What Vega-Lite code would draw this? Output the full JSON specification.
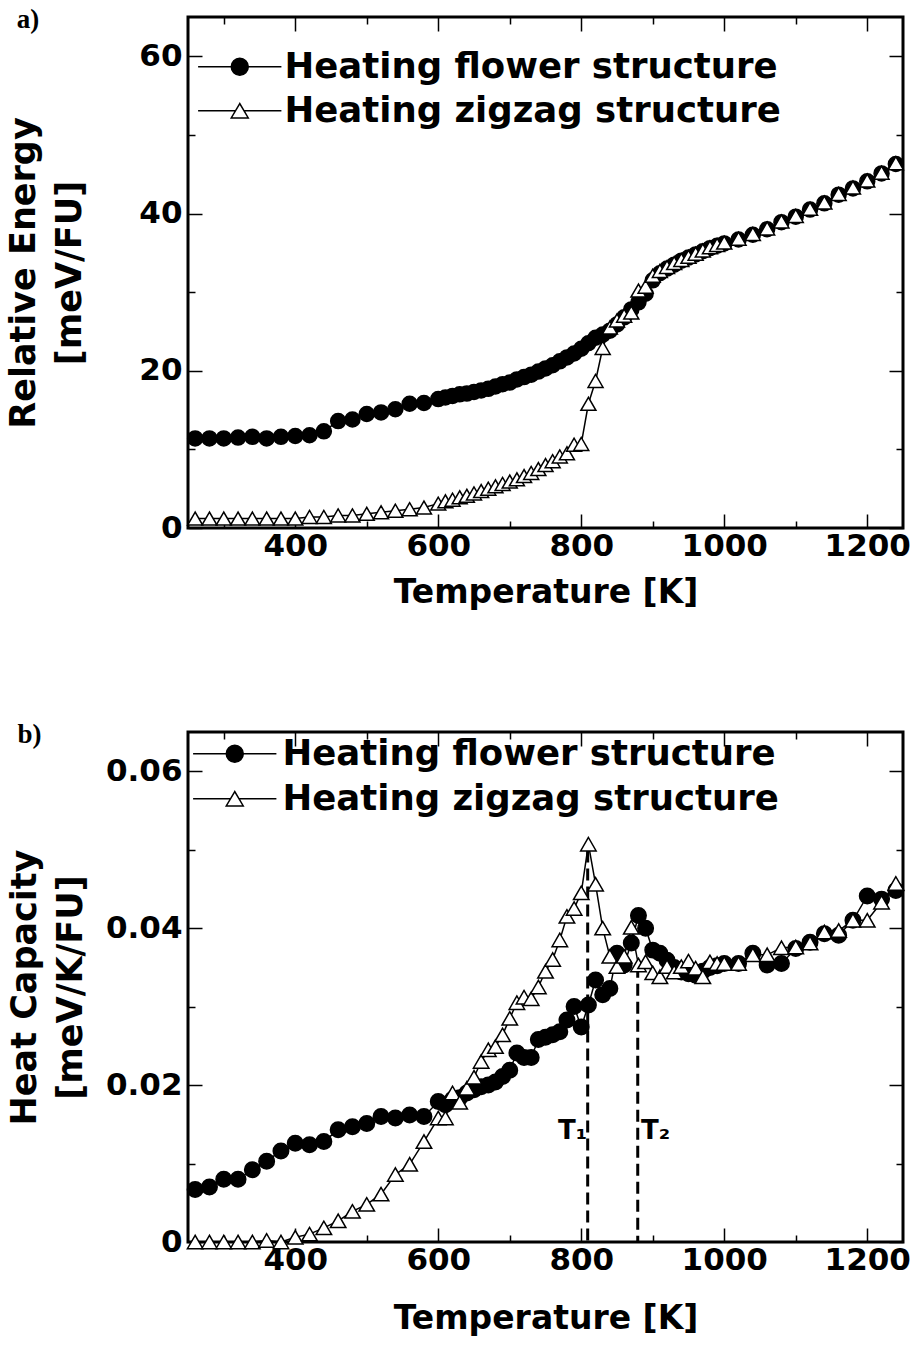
{
  "$schema": "https://vega.github.io/schema/vega-lite/v6.json",
  "background": "white",
  "padding": {"left": 5, "top": 4, "right": 5, "bottom": 5},
  "spacing": 108,
  "config": {
    "view": {"stroke": "black", "strokeWidth": 3},
    "font": "DejaVu Sans",
    "axis": {"domain": false, "grid": false, "labelFont": "DejaVu Sans", "labelFontWeight": "bold", "labelFontSize": 31, "labelColor": "black", "titleFont": "DejaVu Sans", "titleFontWeight": "bold", "titleFontSize": 35, "titleColor": "black", "tickColor": "black", "tickWidth": 1.5},
    "legend": {"orient": "none", "title": null, "labelFont": "DejaVu Sans", "labelFontWeight": "bold", "labelFontSize": 35.5, "labelColor": "black", "labelLimit": 0, "symbolSize": 289, "symbolStrokeWidth": 1.5, "symbolOpacity": 1, "padding": 0},
    "title": {"font": "Liberation Serif", "fontWeight": "bold", "fontSize": 27, "color": "black", "anchor": "start", "frame": "bounds", "offset": -18, "dx": 10}
  },
  "resolve": {"scale": {"fill": "independent", "stroke": "independent"}, "legend": {"fill": "independent", "stroke": "independent"}},
  "datasets": {
    "energy": [
      {"series":"Heating flower structure","T":260,"E":11.4},{"series":"Heating flower structure","T":280,"E":11.4},{"series":"Heating flower structure","T":300,"E":11.4},{"series":"Heating flower structure","T":320,"E":11.5},{"series":"Heating flower structure","T":340,"E":11.6},{"series":"Heating flower structure","T":360,"E":11.4},{"series":"Heating flower structure","T":380,"E":11.6},{"series":"Heating flower structure","T":400,"E":11.7},{"series":"Heating flower structure","T":420,"E":11.8},{"series":"Heating flower structure","T":440,"E":12.3},{"series":"Heating flower structure","T":460,"E":13.6},{"series":"Heating flower structure","T":480,"E":13.8},{"series":"Heating flower structure","T":500,"E":14.5},{"series":"Heating flower structure","T":520,"E":14.7},{"series":"Heating flower structure","T":540,"E":15.1},{"series":"Heating flower structure","T":560,"E":15.8},{"series":"Heating flower structure","T":580,"E":15.9},
      {"series":"Heating flower structure","T":600,"E":16.4},{"series":"Heating flower structure","T":610,"E":16.6},{"series":"Heating flower structure","T":620,"E":16.8},{"series":"Heating flower structure","T":630,"E":17.0},{"series":"Heating flower structure","T":640,"E":17.1},{"series":"Heating flower structure","T":650,"E":17.3},{"series":"Heating flower structure","T":660,"E":17.5},{"series":"Heating flower structure","T":670,"E":17.7},{"series":"Heating flower structure","T":680,"E":18.0},{"series":"Heating flower structure","T":690,"E":18.3},{"series":"Heating flower structure","T":700,"E":18.5},{"series":"Heating flower structure","T":710,"E":18.9},{"series":"Heating flower structure","T":720,"E":19.2},{"series":"Heating flower structure","T":730,"E":19.5},{"series":"Heating flower structure","T":740,"E":19.9},{"series":"Heating flower structure","T":750,"E":20.3},{"series":"Heating flower structure","T":760,"E":20.7},{"series":"Heating flower structure","T":770,"E":21.2},{"series":"Heating flower structure","T":780,"E":21.7},{"series":"Heating flower structure","T":790,"E":22.2},{"series":"Heating flower structure","T":800,"E":22.8},{"series":"Heating flower structure","T":810,"E":23.5},{"series":"Heating flower structure","T":820,"E":24.2},{"series":"Heating flower structure","T":830,"E":24.6},{"series":"Heating flower structure","T":840,"E":25.1},{"series":"Heating flower structure","T":850,"E":25.9},{"series":"Heating flower structure","T":860,"E":26.8},{"series":"Heating flower structure","T":870,"E":27.8},{"series":"Heating flower structure","T":880,"E":28.7},{"series":"Heating flower structure","T":890,"E":29.8},{"series":"Heating flower structure","T":900,"E":31.5},{"series":"Heating flower structure","T":910,"E":32.4},{"series":"Heating flower structure","T":920,"E":33.0},{"series":"Heating flower structure","T":930,"E":33.5},{"series":"Heating flower structure","T":940,"E":34.0},{"series":"Heating flower structure","T":950,"E":34.4},{"series":"Heating flower structure","T":960,"E":34.8},{"series":"Heating flower structure","T":970,"E":35.2},{"series":"Heating flower structure","T":980,"E":35.6},{"series":"Heating flower structure","T":990,"E":35.9},
      {"series":"Heating flower structure","T":1000,"E":36.2},{"series":"Heating flower structure","T":1020,"E":36.7},{"series":"Heating flower structure","T":1040,"E":37.3},{"series":"Heating flower structure","T":1060,"E":38.0},{"series":"Heating flower structure","T":1080,"E":38.9},{"series":"Heating flower structure","T":1100,"E":39.6},{"series":"Heating flower structure","T":1120,"E":40.5},{"series":"Heating flower structure","T":1140,"E":41.3},{"series":"Heating flower structure","T":1160,"E":42.4},{"series":"Heating flower structure","T":1180,"E":43.2},{"series":"Heating flower structure","T":1200,"E":44.1},{"series":"Heating flower structure","T":1220,"E":45.1},{"series":"Heating flower structure","T":1240,"E":46.3},
      {"series":"Heating zigzag structure","T":260,"E":1.2},{"series":"Heating zigzag structure","T":280,"E":1.2},{"series":"Heating zigzag structure","T":300,"E":1.2},{"series":"Heating zigzag structure","T":320,"E":1.2},{"series":"Heating zigzag structure","T":340,"E":1.2},{"series":"Heating zigzag structure","T":360,"E":1.2},{"series":"Heating zigzag structure","T":380,"E":1.2},{"series":"Heating zigzag structure","T":400,"E":1.2},{"series":"Heating zigzag structure","T":420,"E":1.4},{"series":"Heating zigzag structure","T":440,"E":1.4},{"series":"Heating zigzag structure","T":460,"E":1.6},{"series":"Heating zigzag structure","T":480,"E":1.6},{"series":"Heating zigzag structure","T":500,"E":1.8},{"series":"Heating zigzag structure","T":520,"E":2.0},{"series":"Heating zigzag structure","T":540,"E":2.2},{"series":"Heating zigzag structure","T":560,"E":2.4},{"series":"Heating zigzag structure","T":580,"E":2.6},
      {"series":"Heating zigzag structure","T":600,"E":3.1},{"series":"Heating zigzag structure","T":610,"E":3.4},{"series":"Heating zigzag structure","T":620,"E":3.6},{"series":"Heating zigzag structure","T":630,"E":3.9},{"series":"Heating zigzag structure","T":640,"E":4.1},{"series":"Heating zigzag structure","T":650,"E":4.4},{"series":"Heating zigzag structure","T":660,"E":4.7},{"series":"Heating zigzag structure","T":670,"E":5.0},{"series":"Heating zigzag structure","T":680,"E":5.3},{"series":"Heating zigzag structure","T":690,"E":5.6},{"series":"Heating zigzag structure","T":700,"E":5.9},{"series":"Heating zigzag structure","T":710,"E":6.2},{"series":"Heating zigzag structure","T":720,"E":6.6},{"series":"Heating zigzag structure","T":730,"E":7.0},{"series":"Heating zigzag structure","T":740,"E":7.5},{"series":"Heating zigzag structure","T":750,"E":8.0},{"series":"Heating zigzag structure","T":760,"E":8.5},{"series":"Heating zigzag structure","T":770,"E":9.1},{"series":"Heating zigzag structure","T":780,"E":9.5},{"series":"Heating zigzag structure","T":790,"E":10.6},{"series":"Heating zigzag structure","T":800,"E":10.7},{"series":"Heating zigzag structure","T":810,"E":15.8},{"series":"Heating zigzag structure","T":820,"E":18.7},{"series":"Heating zigzag structure","T":830,"E":22.9},{"series":"Heating zigzag structure","T":840,"E":25.5},{"series":"Heating zigzag structure","T":850,"E":26.4},{"series":"Heating zigzag structure","T":860,"E":27.0},{"series":"Heating zigzag structure","T":870,"E":27.4},{"series":"Heating zigzag structure","T":880,"E":30.2},{"series":"Heating zigzag structure","T":890,"E":30.7},{"series":"Heating zigzag structure","T":900,"E":32.1},{"series":"Heating zigzag structure","T":910,"E":32.7},{"series":"Heating zigzag structure","T":920,"E":33.2},{"series":"Heating zigzag structure","T":930,"E":33.7},{"series":"Heating zigzag structure","T":940,"E":34.1},{"series":"Heating zigzag structure","T":950,"E":34.5},{"series":"Heating zigzag structure","T":960,"E":34.9},{"series":"Heating zigzag structure","T":970,"E":35.3},{"series":"Heating zigzag structure","T":980,"E":35.7},{"series":"Heating zigzag structure","T":990,"E":36.0},
      {"series":"Heating zigzag structure","T":1000,"E":36.3},{"series":"Heating zigzag structure","T":1020,"E":36.8},{"series":"Heating zigzag structure","T":1040,"E":37.4},{"series":"Heating zigzag structure","T":1060,"E":38.1},{"series":"Heating zigzag structure","T":1080,"E":39.0},{"series":"Heating zigzag structure","T":1100,"E":39.7},{"series":"Heating zigzag structure","T":1120,"E":40.6},{"series":"Heating zigzag structure","T":1140,"E":41.4},{"series":"Heating zigzag structure","T":1160,"E":42.5},{"series":"Heating zigzag structure","T":1180,"E":43.3},{"series":"Heating zigzag structure","T":1200,"E":44.2},{"series":"Heating zigzag structure","T":1220,"E":45.2},{"series":"Heating zigzag structure","T":1240,"E":46.4}
    ],
    "heat": [
      {"series":"Heating flower structure","T":260,"C":0.0067},{"series":"Heating flower structure","T":280,"C":0.0070},{"series":"Heating flower structure","T":300,"C":0.0080},{"series":"Heating flower structure","T":320,"C":0.0080},{"series":"Heating flower structure","T":340,"C":0.0092},{"series":"Heating flower structure","T":360,"C":0.0103},{"series":"Heating flower structure","T":380,"C":0.0116},{"series":"Heating flower structure","T":400,"C":0.0126},{"series":"Heating flower structure","T":420,"C":0.0124},{"series":"Heating flower structure","T":440,"C":0.0128},{"series":"Heating flower structure","T":460,"C":0.0143},{"series":"Heating flower structure","T":480,"C":0.0147},{"series":"Heating flower structure","T":500,"C":0.0151},{"series":"Heating flower structure","T":520,"C":0.0160},{"series":"Heating flower structure","T":540,"C":0.0158},{"series":"Heating flower structure","T":560,"C":0.0162},{"series":"Heating flower structure","T":580,"C":0.0160},
      {"series":"Heating flower structure","T":600,"C":0.0179},{"series":"Heating flower structure","T":610,"C":0.0175},{"series":"Heating flower structure","T":620,"C":0.0182},{"series":"Heating flower structure","T":630,"C":0.0184},{"series":"Heating flower structure","T":640,"C":0.0190},{"series":"Heating flower structure","T":650,"C":0.0194},{"series":"Heating flower structure","T":660,"C":0.0198},{"series":"Heating flower structure","T":670,"C":0.0200},{"series":"Heating flower structure","T":680,"C":0.0204},{"series":"Heating flower structure","T":690,"C":0.0211},{"series":"Heating flower structure","T":700,"C":0.0219},{"series":"Heating flower structure","T":710,"C":0.0241},{"series":"Heating flower structure","T":720,"C":0.0235},{"series":"Heating flower structure","T":730,"C":0.0235},{"series":"Heating flower structure","T":740,"C":0.0258},{"series":"Heating flower structure","T":750,"C":0.0261},{"series":"Heating flower structure","T":760,"C":0.0264},{"series":"Heating flower structure","T":770,"C":0.0268},{"series":"Heating flower structure","T":780,"C":0.0283},{"series":"Heating flower structure","T":790,"C":0.0300},{"series":"Heating flower structure","T":800,"C":0.0274},{"series":"Heating flower structure","T":810,"C":0.0302},{"series":"Heating flower structure","T":820,"C":0.0334},{"series":"Heating flower structure","T":830,"C":0.0315},{"series":"Heating flower structure","T":840,"C":0.0323},{"series":"Heating flower structure","T":850,"C":0.0368},{"series":"Heating flower structure","T":860,"C":0.0353},{"series":"Heating flower structure","T":870,"C":0.0381},{"series":"Heating flower structure","T":880,"C":0.0416},{"series":"Heating flower structure","T":890,"C":0.0400},{"series":"Heating flower structure","T":900,"C":0.0372},{"series":"Heating flower structure","T":910,"C":0.0368},{"series":"Heating flower structure","T":920,"C":0.0359},{"series":"Heating flower structure","T":930,"C":0.0350},{"series":"Heating flower structure","T":940,"C":0.0344},{"series":"Heating flower structure","T":950,"C":0.0342},{"series":"Heating flower structure","T":960,"C":0.0340},{"series":"Heating flower structure","T":970,"C":0.0345},{"series":"Heating flower structure","T":980,"C":0.0350},{"series":"Heating flower structure","T":990,"C":0.0352},
      {"series":"Heating flower structure","T":1000,"C":0.0355},{"series":"Heating flower structure","T":1020,"C":0.0355},{"series":"Heating flower structure","T":1040,"C":0.0368},{"series":"Heating flower structure","T":1060,"C":0.0353},{"series":"Heating flower structure","T":1080,"C":0.0355},{"series":"Heating flower structure","T":1100,"C":0.0374},{"series":"Heating flower structure","T":1120,"C":0.0382},{"series":"Heating flower structure","T":1140,"C":0.0393},{"series":"Heating flower structure","T":1160,"C":0.0391},{"series":"Heating flower structure","T":1180,"C":0.0410},{"series":"Heating flower structure","T":1200,"C":0.0441},{"series":"Heating flower structure","T":1220,"C":0.0437},{"series":"Heating flower structure","T":1240,"C":0.0448},
      {"series":"Heating zigzag structure","T":260,"C":0.0},{"series":"Heating zigzag structure","T":280,"C":0.0},{"series":"Heating zigzag structure","T":300,"C":0.0},{"series":"Heating zigzag structure","T":320,"C":0.0},{"series":"Heating zigzag structure","T":340,"C":0.0},{"series":"Heating zigzag structure","T":360,"C":0.0002},{"series":"Heating zigzag structure","T":380,"C":0.0},{"series":"Heating zigzag structure","T":400,"C":0.0006},{"series":"Heating zigzag structure","T":420,"C":0.0010},{"series":"Heating zigzag structure","T":440,"C":0.0018},{"series":"Heating zigzag structure","T":460,"C":0.0027},{"series":"Heating zigzag structure","T":480,"C":0.0039},{"series":"Heating zigzag structure","T":500,"C":0.0048},{"series":"Heating zigzag structure","T":520,"C":0.0061},{"series":"Heating zigzag structure","T":540,"C":0.0086},{"series":"Heating zigzag structure","T":560,"C":0.0099},{"series":"Heating zigzag structure","T":580,"C":0.0128},
      {"series":"Heating zigzag structure","T":600,"C":0.0158},{"series":"Heating zigzag structure","T":610,"C":0.0158},{"series":"Heating zigzag structure","T":620,"C":0.0190},{"series":"Heating zigzag structure","T":630,"C":0.0178},{"series":"Heating zigzag structure","T":640,"C":0.0196},{"series":"Heating zigzag structure","T":650,"C":0.0210},{"series":"Heating zigzag structure","T":660,"C":0.0230},{"series":"Heating zigzag structure","T":670,"C":0.0245},{"series":"Heating zigzag structure","T":680,"C":0.0249},{"series":"Heating zigzag structure","T":690,"C":0.0264},{"series":"Heating zigzag structure","T":700,"C":0.0285},{"series":"Heating zigzag structure","T":710,"C":0.0305},{"series":"Heating zigzag structure","T":720,"C":0.0312},{"series":"Heating zigzag structure","T":730,"C":0.0310},{"series":"Heating zigzag structure","T":740,"C":0.0325},{"series":"Heating zigzag structure","T":750,"C":0.0345},{"series":"Heating zigzag structure","T":760,"C":0.0360},{"series":"Heating zigzag structure","T":770,"C":0.0385},{"series":"Heating zigzag structure","T":780,"C":0.0415},{"series":"Heating zigzag structure","T":790,"C":0.0425},{"series":"Heating zigzag structure","T":800,"C":0.0445},{"series":"Heating zigzag structure","T":810,"C":0.0507},{"series":"Heating zigzag structure","T":820,"C":0.0456},{"series":"Heating zigzag structure","T":830,"C":0.0400},{"series":"Heating zigzag structure","T":840,"C":0.0364},{"series":"Heating zigzag structure","T":850,"C":0.0351},{"series":"Heating zigzag structure","T":860,"C":0.0364},{"series":"Heating zigzag structure","T":870,"C":0.0401},{"series":"Heating zigzag structure","T":880,"C":0.0353},{"series":"Heating zigzag structure","T":890,"C":0.0357},{"series":"Heating zigzag structure","T":900,"C":0.0343},{"series":"Heating zigzag structure","T":910,"C":0.0338},{"series":"Heating zigzag structure","T":920,"C":0.0351},{"series":"Heating zigzag structure","T":930,"C":0.0344},{"series":"Heating zigzag structure","T":940,"C":0.0351},{"series":"Heating zigzag structure","T":950,"C":0.0358},{"series":"Heating zigzag structure","T":960,"C":0.0349},{"series":"Heating zigzag structure","T":970,"C":0.0338},{"series":"Heating zigzag structure","T":980,"C":0.0357},{"series":"Heating zigzag structure","T":990,"C":0.0355},
      {"series":"Heating zigzag structure","T":1000,"C":0.0355},{"series":"Heating zigzag structure","T":1020,"C":0.0355},{"series":"Heating zigzag structure","T":1040,"C":0.0366},{"series":"Heating zigzag structure","T":1060,"C":0.0366},{"series":"Heating zigzag structure","T":1080,"C":0.0375},{"series":"Heating zigzag structure","T":1100,"C":0.0376},{"series":"Heating zigzag structure","T":1120,"C":0.0381},{"series":"Heating zigzag structure","T":1140,"C":0.0395},{"series":"Heating zigzag structure","T":1160,"C":0.0397},{"series":"Heating zigzag structure","T":1180,"C":0.0410},{"series":"Heating zigzag structure","T":1200,"C":0.0410},{"series":"Heating zigzag structure","T":1220,"C":0.0433},{"series":"Heating zigzag structure","T":1240,"C":0.0457}
    ],
    "transitions": [
      {"label":"T₁","T":809,"top":0.0499,"labelT":788,"labelC":0.0142},
      {"label":"T₂","T":879,"top":0.0352,"labelT":904,"labelC":0.0142}
    ]
  },
  "vconcat": [
    {
      "width": 715, "height": 511,
      "title": {"text": "a)"},
      "data": {"name": "energy"},
      "layer": [
        {
          "mark": {"type": "line", "color": "black", "strokeWidth": 1.5},
          "encoding": {
            "x": {"field": "T", "type": "quantitative", "scale": {"domain": [250, 1250], "nice": false, "zero": false},
              "axis": {"orient": "bottom", "values": [300,400,500,600,700,800,900,1000,1100,1200], "format": "d", "labelExpr": "datum.value % 200 === 0 ? datum.label : ''", "tickSize": {"condition": {"test": "datum.value % 200 === 0", "value": -14}, "value": -7}, "labelPadding": 17, "title": "Temperature [K]", "titleFontSize": 33, "titlePadding": 15}},
            "y": {"field": "E", "type": "quantitative", "scale": {"domain": [0, 65], "nice": false},
              "axis": {"orient": "left", "values": [0,10,20,30,40,50,60], "labelExpr": "datum.value % 20 === 0 ? datum.label : ''", "tickSize": {"condition": {"test": "datum.value % 20 === 0", "value": -14}, "value": -7}, "labelPadding": 20, "title": ["Relative Energy", "[meV/FU]"], "titleLineHeight": 46, "titlePadding": 51}},
            "detail": {"field": "series"}
          }
        },
        {
          "mark": {"type": "point", "filled": true, "stroke": "black", "strokeWidth": 1.5, "size": 225, "opacity": 1},
          "encoding": {
            "x": {"field": "T", "type": "quantitative", "scale": {"domain": [250, 1250], "nice": false, "zero": false},
              "axis": {"orient": "top", "values": [300,400,500,600,700,800,900,1000,1100,1200], "labels": false, "title": null, "tickSize": {"condition": {"test": "datum.value % 200 === 0", "value": -14}, "value": -7}}},
            "y": {"field": "E", "type": "quantitative", "scale": {"domain": [0, 65], "nice": false},
              "axis": {"orient": "right", "values": [0,10,20,30,40,50,60], "labels": false, "title": null, "tickSize": {"condition": {"test": "datum.value % 20 === 0", "value": -14}, "value": -7}}},
            "shape": {"condition": {"test": "datum.series === 'Heating flower structure'", "value": "circle"}, "value": "triangle-up"},
            "fill": {"condition": {"test": "datum.series === 'Heating flower structure'", "value": "black"}, "value": "white"}
          }
        },
        {
          "transform": [{"filter": "datum.series === 'Heating flower structure'"}],
          "mark": {"type": "point", "filled": true, "stroke": "black", "strokeWidth": 1.5, "size": 289, "opacity": 0},
          "encoding": {
            "fill": {"field": "series", "type": "nominal", "scale": {"range": ["black"]},
              "legend": {"legendX": 34, "legendY": 32, "labelOffset": 27, "symbolType": "M-4.9,0H-1M1,0H4.9M-1,0A1,1,0,1,1,1,0A1,1,0,1,1,-1,0Z", "symbolStrokeColor": "black", "zindex": 2}}
          }
        },
        {
          "transform": [{"filter": "datum.series === 'Heating zigzag structure'"}],
          "mark": {"type": "point", "filled": true, "fill": "white", "strokeWidth": 1.5, "size": 289, "opacity": 0},
          "encoding": {
            "stroke": {"field": "series", "type": "nominal", "scale": {"range": ["black"]},
              "legend": {"legendX": 34, "legendY": 76, "labelOffset": 27, "symbolType": "M-4.9,0H-0.5M0.5,0H4.9M0,-0.85L-1,0.85L1,0.85Z", "symbolFillColor": "white", "zindex": 2}}
          }
        }
      ],
      "resolve": {"axis": {"x": "independent", "y": "independent"}}
    },
    {
      "width": 715, "height": 510,
      "title": {"text": "b)"},
      "layer": [
        {
          "data": {"name": "transitions"},
          "mark": {"type": "rule", "color": "black", "strokeWidth": 3, "strokeDash": [12, 6]},
          "encoding": {
            "x": {"field": "T", "type": "quantitative", "scale": {"domain": [250, 1250], "nice": false, "zero": false}, "axis": null},
            "y": {"field": "top", "type": "quantitative", "scale": {"domain": [0, 0.065], "nice": false}, "axis": null},
            "y2": {"datum": 0}
          }
        },
        {
          "data": {"name": "transitions"},
          "mark": {"type": "text", "font": "DejaVu Sans", "fontWeight": "bold", "fontSize": 26, "color": "black", "align": "center", "baseline": "middle"},
          "encoding": {
            "x": {"field": "labelT", "type": "quantitative", "scale": {"domain": [250, 1250], "nice": false, "zero": false}, "axis": null},
            "y": {"field": "labelC", "type": "quantitative", "scale": {"domain": [0, 0.065], "nice": false}, "axis": null},
            "text": {"field": "label"}
          }
        },
        {
          "data": {"name": "heat"},
          "mark": {"type": "line", "color": "black", "strokeWidth": 1.5},
          "encoding": {
            "x": {"field": "T", "type": "quantitative", "scale": {"domain": [250, 1250], "nice": false, "zero": false},
              "axis": {"orient": "bottom", "values": [300,400,500,600,700,800,900,1000,1100,1200], "format": "d", "labelExpr": "datum.value % 200 === 0 ? datum.label : ''", "tickSize": {"condition": {"test": "datum.value % 200 === 0", "value": -14}, "value": -7}, "labelPadding": 17, "title": "Temperature [K]", "titleFontSize": 33, "titlePadding": 27}},
            "y": {"field": "C", "type": "quantitative", "scale": {"domain": [0, 0.065], "nice": false},
              "axis": {"orient": "left", "values": [0,0.01,0.02,0.03,0.04,0.05,0.06], "format": "~g", "labelExpr": "round(datum.value*100) % 2 === 0 ? datum.label : ''", "tickSize": {"condition": {"test": "round(datum.value*100) % 2 === 0", "value": -14}, "value": -7}, "labelPadding": 20, "title": ["Heat Capacity", "[meV/K/FU]"], "titleLineHeight": 46, "titlePadding": 17}},
            "detail": {"field": "series"}
          }
        },
        {
          "data": {"name": "heat"},
          "mark": {"type": "point", "filled": true, "stroke": "black", "strokeWidth": 1.5, "size": 240, "opacity": 1},
          "encoding": {
            "x": {"field": "T", "type": "quantitative", "scale": {"domain": [250, 1250], "nice": false, "zero": false},
              "axis": {"orient": "top", "values": [300,400,500,600,700,800,900,1000,1100,1200], "labels": false, "title": null, "tickSize": {"condition": {"test": "datum.value % 200 === 0", "value": -14}, "value": -7}}},
            "y": {"field": "C", "type": "quantitative", "scale": {"domain": [0, 0.065], "nice": false},
              "axis": {"orient": "right", "values": [0,0.01,0.02,0.03,0.04,0.05,0.06], "labels": false, "title": null, "tickSize": {"condition": {"test": "round(datum.value*100) % 2 === 0", "value": -14}, "value": -7}}},
            "shape": {"condition": {"test": "datum.series === 'Heating flower structure'", "value": "circle"}, "value": "triangle-up"},
            "fill": {"condition": {"test": "datum.series === 'Heating flower structure'", "value": "black"}, "value": "white"}
          }
        },
        {
          "data": {"name": "heat"},
          "transform": [{"filter": "datum.series === 'Heating flower structure'"}],
          "mark": {"type": "point", "filled": true, "stroke": "black", "strokeWidth": 1.5, "size": 289, "opacity": 0},
          "encoding": {
            "fill": {"field": "series", "type": "nominal", "scale": {"range": ["black"]},
              "legend": {"legendX": 29, "legendY": 4, "labelOffset": 30, "symbolType": "M-4.9,0H-1M1,0H4.9M-1,0A1,1,0,1,1,1,0A1,1,0,1,1,-1,0Z", "symbolStrokeColor": "black", "zindex": 2}}
          }
        },
        {
          "data": {"name": "heat"},
          "transform": [{"filter": "datum.series === 'Heating zigzag structure'"}],
          "mark": {"type": "point", "filled": true, "fill": "white", "strokeWidth": 1.5, "size": 289, "opacity": 0},
          "encoding": {
            "stroke": {"field": "series", "type": "nominal", "scale": {"range": ["black"]},
              "legend": {"legendX": 29, "legendY": 49, "labelOffset": 30, "symbolType": "M-4.9,0H-0.5M0.5,0H4.9M0,-0.85L-1,0.85L1,0.85Z", "symbolFillColor": "white", "zindex": 2}}
          }
        }
      ],
      "resolve": {"axis": {"x": "independent", "y": "independent"}}
    }
  ]
}
